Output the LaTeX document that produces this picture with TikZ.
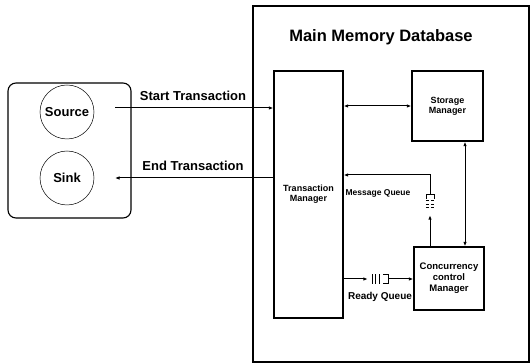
\documentclass[tikz,border=0pt]{standalone}
\usepackage{fontspec}
\setmainfont{Liberation Sans}
\usetikzlibrary{arrows.meta}

\begin{document}
\begin{tikzpicture}[x=1pt,y=-1pt,
    blk/.style={draw,line width=1.3pt,inner sep=0pt},
    lbl/.style={font=\bfseries\fontsize{9}{10}\selectfont,align=center,inner sep=1pt},
    arr/.style={line width=1pt,-{Latex[length=4.5pt,width=3.5pt]}},
    arrb/.style={line width=1pt,{Latex[length=4.5pt,width=3.5pt]}-{Latex[length=4.5pt,width=3.5pt]}},
    qbar/.style={line width=0.6pt}]
  \useasboundingbox (0,0) rectangle (531,363);
  % environment
  \node[draw,line width=1.1pt,rounded corners=8pt,minimum width=123pt,minimum height=135pt]
    (env) at (69.5,150.5) {};
  \node[draw,circle,line width=0.5pt,minimum size=54pt,font=\bfseries\fontsize{13}{15}\selectfont]
    (src) at (67,112) {Source};
  \node[draw,circle,line width=0.5pt,minimum size=54pt,font=\bfseries\fontsize{13}{15}\selectfont]
    (snk) at (67,178) {Sink};
  % database
  \node[blk,minimum width=276pt,minimum height=356pt] (db) at (391,184) {};
  \node[font=\bfseries\fontsize{16.5}{19}\selectfont] (title) at (381,37) {Main Memory Database};
  \node[blk,minimum width=69pt,minimum height=247pt] (tm) at (308.5,194.5) {};
  \node[lbl] (tmt) at (tm) {Transaction\\Manager};
  \node[blk,minimum width=71pt,minimum height=70pt] (sm) at (447.5,106) {};
  \node[lbl] (smt) at (sm) {Storage\\Manager};
  \node[blk,minimum width=70pt,minimum height=63pt] (ccm) at (449,278.5) {};
  \node[lbl,font=\bfseries\fontsize{9.5}{11}\selectfont] (ccmt) at (ccm) {Concurrency\\control\\Manager};
  % queues
  \node[minimum width=18pt,minimum height=9pt,inner sep=0pt] (rq) at (379,279) {};
  \foreach \d in {2,5.5,9}
    \draw[qbar] ([xshift=\d pt]rq.north west) -- ([xshift=\d pt]rq.south west);
  \draw[qbar] ([xshift=-5pt]rq.north east) -- (rq.north east) -- (rq.south east) -- ([xshift=-5pt]rq.south east);
  \node[minimum width=8pt,minimum height=16pt,inner sep=0pt] (mq) at (430,203) {};
  \foreach \d in {6,9.5,13}
    \draw[qbar,densely dashed] ([yshift=-\d pt]mq.north west) -- ([yshift=-\d pt]mq.north east);
  \draw[qbar] ([yshift=-4pt]mq.north west) -- (mq.north west) -- (mq.north east) -- ([yshift=-4pt]mq.north east);
  % connectors
  \coordinate (st) at (115,108);
  \coordinate (et) at (115,178);
  \coordinate (mqt) at (430,175);
  \draw[arr] (st) -- (st -| tm.west);
  \draw[arr] (et -| tm.west) -- (et);
  \draw[arrb] (tm.east |- sm.west) -- (sm.west);
  \draw[arrb] ([xshift=17.5pt]sm.south) -- ([xshift=17.5pt]sm.south |- ccm.north);
  \draw[arr,shorten >=4pt] (mqt |- ccm.north) -- (mq.south);
  \draw[arr] (mq.north) -- (mqt) -- (mqt -| tm.east);
  \draw[arr,shorten >=2pt] (tm.east |- rq) -- (rq.west);
  \draw[arr] (rq.east) -- (ccm.west |- rq);
  % labels
  \node[lbl,font=\bfseries\fontsize{13}{15}\selectfont] (stl) at (193,96) {Start Transaction};
  \node[lbl,font=\bfseries\fontsize{13}{15}\selectfont] (etl) at (193,166) {End Transaction};
  \node[lbl,font=\bfseries\fontsize{8.5}{10}\selectfont] (mql) at (378,193) {Message Queue};
  \node[lbl,font=\bfseries\fontsize{10}{12}\selectfont] (rql) at (380,297) {Ready Queue};
\end{tikzpicture}
\end{document}
